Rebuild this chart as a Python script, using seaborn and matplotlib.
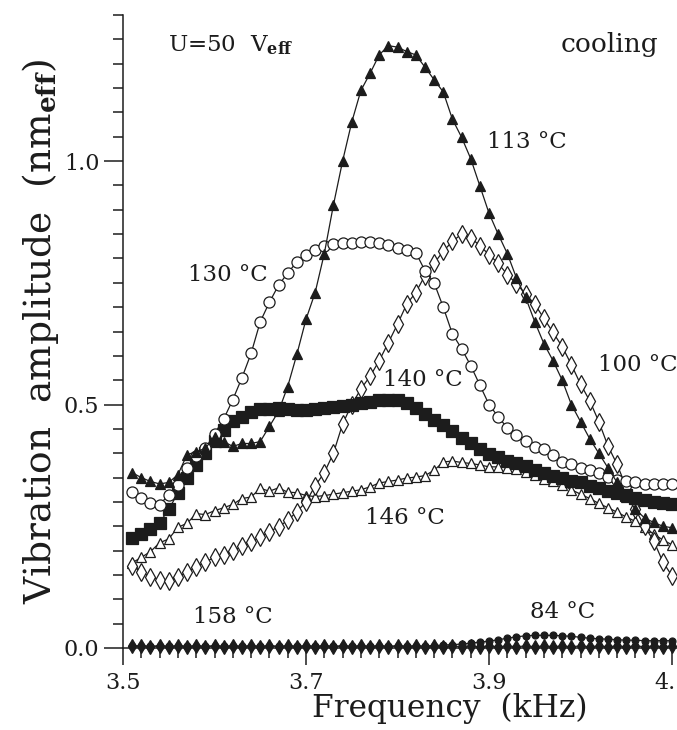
import numpy as np
import pandas as pd
import matplotlib
matplotlib.use('Agg')
import matplotlib.pyplot as plt
from matplotlib.ticker import MultipleLocator
import seaborn as sns

# Frequency grid (kHz) and vibration amplitudes (nm_eff)
freq = np.round(np.arange(3.51, 4.105, 0.01), 2)

amp_113 = [0.360, 0.350, 0.342, 0.337, 0.340, 0.356, 0.397, 0.403, 0.410, 0.434,
           0.424, 0.414, 0.420, 0.420, 0.424, 0.455, 0.486, 0.537, 0.603, 0.675,
           0.730, 0.810, 0.910, 1.000, 1.080, 1.145, 1.180, 1.218, 1.237, 1.234,
           1.225, 1.218, 1.193, 1.167, 1.142, 1.086, 1.049, 1.005, 0.949, 0.893,
           0.850, 0.810, 0.760, 0.720, 0.670, 0.625, 0.590, 0.550, 0.500, 0.465,
           0.430, 0.400, 0.370, 0.340, 0.310, 0.285, 0.267, 0.258, 0.250, 0.247]

amp_130 = [0.320, 0.308, 0.298, 0.294, 0.315, 0.335, 0.370, 0.395, 0.410, 0.440,
           0.470, 0.510, 0.555, 0.605, 0.670, 0.710, 0.745, 0.770, 0.793, 0.808,
           0.818, 0.825, 0.830, 0.831, 0.832, 0.833, 0.833, 0.831, 0.827, 0.822,
           0.818, 0.812, 0.775, 0.750, 0.700, 0.645, 0.615, 0.580, 0.540, 0.500,
           0.475, 0.452, 0.438, 0.425, 0.413, 0.408, 0.396, 0.383, 0.378, 0.370,
           0.365, 0.360, 0.352, 0.346, 0.342, 0.340, 0.337, 0.337, 0.337, 0.337]

amp_140 = [0.225, 0.235, 0.245, 0.257, 0.285, 0.318, 0.350, 0.375, 0.400, 0.425,
           0.447, 0.467, 0.475, 0.485, 0.490, 0.490, 0.492, 0.490, 0.488, 0.488,
           0.490, 0.492, 0.494, 0.496, 0.500, 0.503, 0.506, 0.510, 0.510, 0.510,
           0.503, 0.492, 0.480, 0.468, 0.457, 0.445, 0.432, 0.420, 0.408, 0.398,
           0.392, 0.385, 0.379, 0.373, 0.366, 0.360, 0.354, 0.349, 0.343, 0.340,
           0.333, 0.329, 0.322, 0.318, 0.314, 0.309, 0.303, 0.299, 0.298, 0.295]

amp_146 = [0.175, 0.186, 0.198, 0.216, 0.224, 0.248, 0.256, 0.276, 0.274, 0.282,
           0.288, 0.295, 0.307, 0.310, 0.328, 0.322, 0.329, 0.320, 0.319, 0.313,
           0.311, 0.313, 0.316, 0.319, 0.322, 0.325, 0.331, 0.339, 0.342, 0.345,
           0.349, 0.351, 0.354, 0.365, 0.382, 0.384, 0.381, 0.379, 0.376, 0.372,
           0.372, 0.370, 0.367, 0.362, 0.355, 0.348, 0.343, 0.335, 0.325, 0.316,
           0.307, 0.297, 0.288, 0.279, 0.269, 0.260, 0.248, 0.234, 0.222, 0.212]

amp_100 = [0.169, 0.156, 0.146, 0.140, 0.138, 0.146, 0.156, 0.167, 0.177, 0.186,
           0.192, 0.199, 0.209, 0.217, 0.228, 0.239, 0.249, 0.262, 0.280, 0.300,
           0.333, 0.360, 0.400, 0.460, 0.500, 0.532, 0.558, 0.590, 0.627, 0.665,
           0.706, 0.730, 0.765, 0.790, 0.815, 0.835, 0.850, 0.843, 0.826, 0.808,
           0.790, 0.767, 0.748, 0.727, 0.706, 0.677, 0.648, 0.619, 0.582, 0.542,
           0.508, 0.465, 0.415, 0.377, 0.330, 0.285, 0.250, 0.220, 0.177, 0.148]

amp_158 = [0.004, 0.004, 0.003, 0.004, 0.003, 0.004, 0.003, 0.004, 0.003, 0.004,
           0.003, 0.004, 0.003, 0.004, 0.003, 0.004, 0.003, 0.004, 0.003, 0.004,
           0.003, 0.004, 0.003, 0.004, 0.003, 0.004, 0.003, 0.004, 0.003, 0.004,
           0.003, 0.004, 0.003, 0.004, 0.003, 0.004, 0.003, 0.004, 0.003, 0.004,
           0.003, 0.004, 0.003, 0.004, 0.003, 0.004, 0.003, 0.004, 0.003, 0.004,
           0.003, 0.004, 0.003, 0.004, 0.003, 0.004, 0.003, 0.004, 0.003, 0.004]

amp_84 = [0.004, 0.004, 0.004, 0.004, 0.004, 0.004, 0.004, 0.004, 0.004, 0.004,
          0.004, 0.004, 0.004, 0.004, 0.004, 0.004, 0.004, 0.004, 0.004, 0.004,
          0.004, 0.004, 0.004, 0.004, 0.004, 0.004, 0.004, 0.004, 0.004, 0.004,
          0.004, 0.004, 0.004, 0.005, 0.006, 0.007, 0.008, 0.010, 0.012, 0.014,
          0.017, 0.020, 0.023, 0.025, 0.026, 0.026, 0.026, 0.025, 0.024, 0.022,
          0.020, 0.019, 0.018, 0.017, 0.016, 0.016, 0.015, 0.015, 0.015, 0.015]

# Set style
sns.set_theme(style='ticks')
plt.rcParams['font.family'] = ['DejaVu Serif']
plt.rcParams['mathtext.fontset'] = 'dejavuserif'

ink = '#1c1c1c'

fig = plt.figure(figsize=(6.77, 7.30), dpi=100)
ax = fig.add_axes([123 / 677, 82 / 730, 554 / 677, 633 / 730])

# (values, marker, face colour, marker size)
series = [
    (amp_158, 'd', ink, 7),
    (amp_84, 'o', ink, 5),
    (amp_146, '^', 'white', 7),
    (amp_100, 'd', 'white', 9),
    (amp_140, 's', ink, 8),
    (amp_130, 'o', 'white', 8),
    (amp_113, '^', ink, 7.5),
]
for vals, mk, face, ms in series:
    sns.lineplot(x=freq, y=vals, ax=ax, color=ink, lw=0.9, marker=mk,
                 markersize=ms, markerfacecolor=face, markeredgecolor=ink,
                 markeredgewidth=0.9, errorbar=None, clip_on=False)

ax.set_xlim(3.5, 3.5 + 554 / 915)
ax.set_ylim(0, 1.30)
sns.despine(ax=ax)

ax.xaxis.set_minor_locator(MultipleLocator(0.02))
ax.yaxis.set_minor_locator(MultipleLocator(0.05))
ax.set_xticks([3.5, 3.7, 3.9, 4.1])
ax.set_xticklabels(['3.5', '3.7', '3.9', '4.1'])
ax.set_yticks([0.0, 0.5, 1.0])
ax.set_yticklabels(['0.0', '0.5', '1.0'])
ax.tick_params(axis='x', which='major', direction='out', length=12, width=1.1,
               color=ink, labelsize=16, labelcolor=ink, pad=5)
ax.tick_params(axis='x', which='minor', direction='out', length=7, width=1.1, color=ink)
ax.tick_params(axis='y', which='major', direction='out', length=14, width=1.1,
               color=ink, labelsize=16, labelcolor=ink, pad=3)
ax.tick_params(axis='y', which='minor', direction='out', length=7, width=1.1, color=ink)
for s in ['left', 'bottom']:
    ax.spines[s].set_color(ink)
    ax.spines[s].set_linewidth(1.1)

ax.set_xlabel('Frequency  (kHz)', fontsize=22.5, color=ink)
ax.xaxis.set_label_coords(0.59, -0.071)
ax.set_ylabel(r'Vibration  amplitude  (nm$_{\mathbf{eff}}$)', fontsize=27,
              color=ink, labelpad=2)

# annotations
tkw = dict(fontsize=16.5, color=ink, va='center')
ax.text(3.549, 1.237, r'U=50  V$_{\mathbf{eff}}$', ha='left', **tkw)
ax.text(4.085, 1.24, 'cooling', ha='right', fontsize=19, color=ink, va='center')
ax.text(3.898, 1.039, '113 °C', ha='left', **tkw)
ax.text(3.571, 0.767, '130 °C', ha='left', **tkw)
ax.text(3.784, 0.551, '140 °C', ha='left', **tkw)
ax.text(4.019, 0.582, '100 °C', ha='left', **tkw)
ax.text(3.764, 0.267, '146 °C', ha='left', **tkw)
ax.text(3.576, 0.064, '158 °C', ha='left', **tkw)
ax.text(3.945, 0.074, '84 °C', ha='left', **tkw)

plt.savefig('out.png', dpi=100)
plt.close()
